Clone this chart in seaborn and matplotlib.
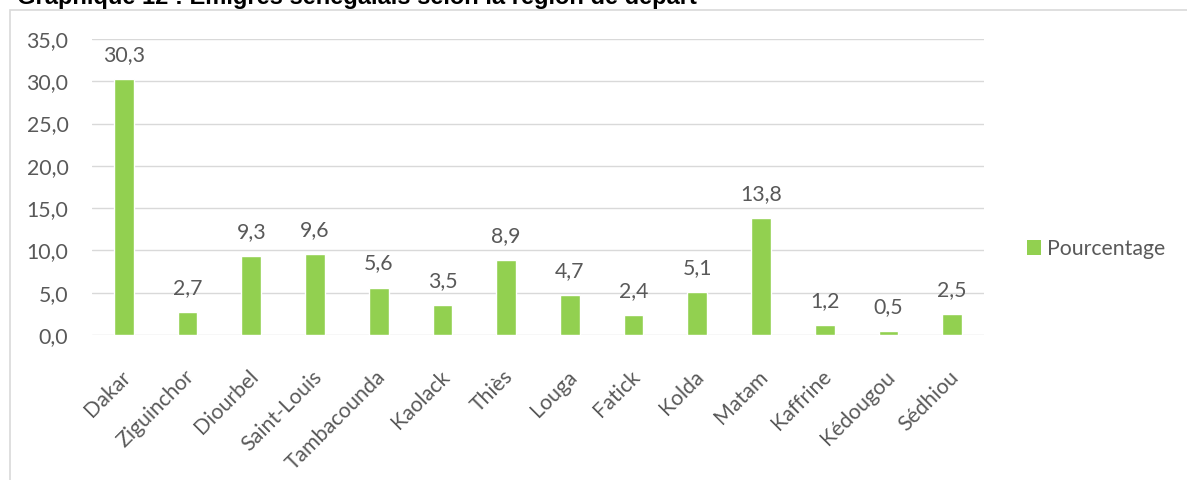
import matplotlib
matplotlib.use("Agg")
import matplotlib.pyplot as plt
import matplotlib.transforms as mtransforms
from matplotlib.patches import Rectangle, Patch
import seaborn as sns
import pandas as pd

# data
regions = ["Dakar", "Ziguinchor", "Diourbel", "Saint-Louis", "Tambacounda", "Kaolack",
           "Thiès", "Louga", "Fatick", "Kolda", "Matam", "Kaffrine", "Kédougou", "Sédhiou"]
pourcentage = [30.3, 2.7, 9.3, 9.6, 5.6, 3.5, 8.9, 4.7, 2.4, 5.1, 13.8, 1.2, 0.5, 2.5]
yticks = [0, 5, 10, 15, 20, 25, 30, 35]
title = "Graphique 12 : Emigrés sénégalais selon la région de départ"
serie = "Pourcentage"

df = pd.DataFrame({"region": regions, "valeur": pourcentage})

sns.set_style("white")
plt.rcParams["font.family"] = ["Lato", "DejaVu Sans"]

green = "#92d050"
txt = "#595959"
grid = "#d9d9d9"
fs = 15.3
W, H = 1187, 480

fig = plt.figure(figsize=(W / 100, H / 100), dpi=100)
ax = fig.add_axes([92 / W, 1 - 335 / H, (984 - 92) / W, (335 - 39) / H])

sns.barplot(data=df, x="region", y="valeur", color=green, width=0.31, ax=ax,
            saturation=1, errorbar=None)

ax.set_ylim(0, 35)
ax.set_xlim(-0.5, len(regions) - 0.5)
ax.set_yticks(yticks)
ax.set_yticklabels([f"{v:.1f}".replace(".", ",") for v in yticks], fontsize=fs, color=txt)
ax.yaxis.grid(True, color=grid, linewidth=1)
ax.set_axisbelow(True)
for s in ax.spines.values():
    s.set_visible(False)
ax.tick_params(axis="y", length=0, pad=17)
ax.tick_params(axis="x", length=0, pad=0)
ax.set_xlabel("")
ax.set_ylabel("")

# x labels: rotated 45, right end of baseline anchored below each bar
ax.set_xticks(range(len(regions)))
ax.set_xticklabels(regions, fontsize=fs, color=txt)
off = mtransforms.ScaledTranslation(8 / 100, -43 / 100, fig.dpi_scale_trans)
for lab in ax.get_xticklabels():
    lab.set_rotation(45)
    lab.set_rotation_mode("anchor")
    lab.set_ha("right")
    lab.set_va("baseline")
    lab.set_transform(lab.get_transform() + off)

# data labels
for i, v in enumerate(pourcentage):
    ax.annotate(f"{v:.1f}".replace(".", ","), (i, v), xytext=(0, 13),
                textcoords="offset points", ha="center", va="baseline",
                fontsize=fs, color=txt)

# legend
handle = Patch(facecolor=green, edgecolor="none")
fig.legend([handle], [serie], loc="center left", bbox_to_anchor=(1027 / W, 1 - 249 / H),
           frameon=False, fontsize=fs, labelcolor=txt, handlelength=0.65,
           handleheight=0.65, handletextpad=0.28, borderaxespad=0, borderpad=0)

# chart border (cropped) and title
fig.patches.append(Rectangle((10 / W, -0.2), 1.2, 1.2 - 10 / H, transform=fig.transFigure,
                             fill=False, edgecolor=grid, linewidth=1.2))
fig.text(17 / W, 1 - 4 / H, title, fontsize=17, fontweight="bold",
         family=["Liberation Sans", "DejaVu Sans"], color="black", va="baseline")

fig.savefig("out.png", dpi=100, facecolor="white")
